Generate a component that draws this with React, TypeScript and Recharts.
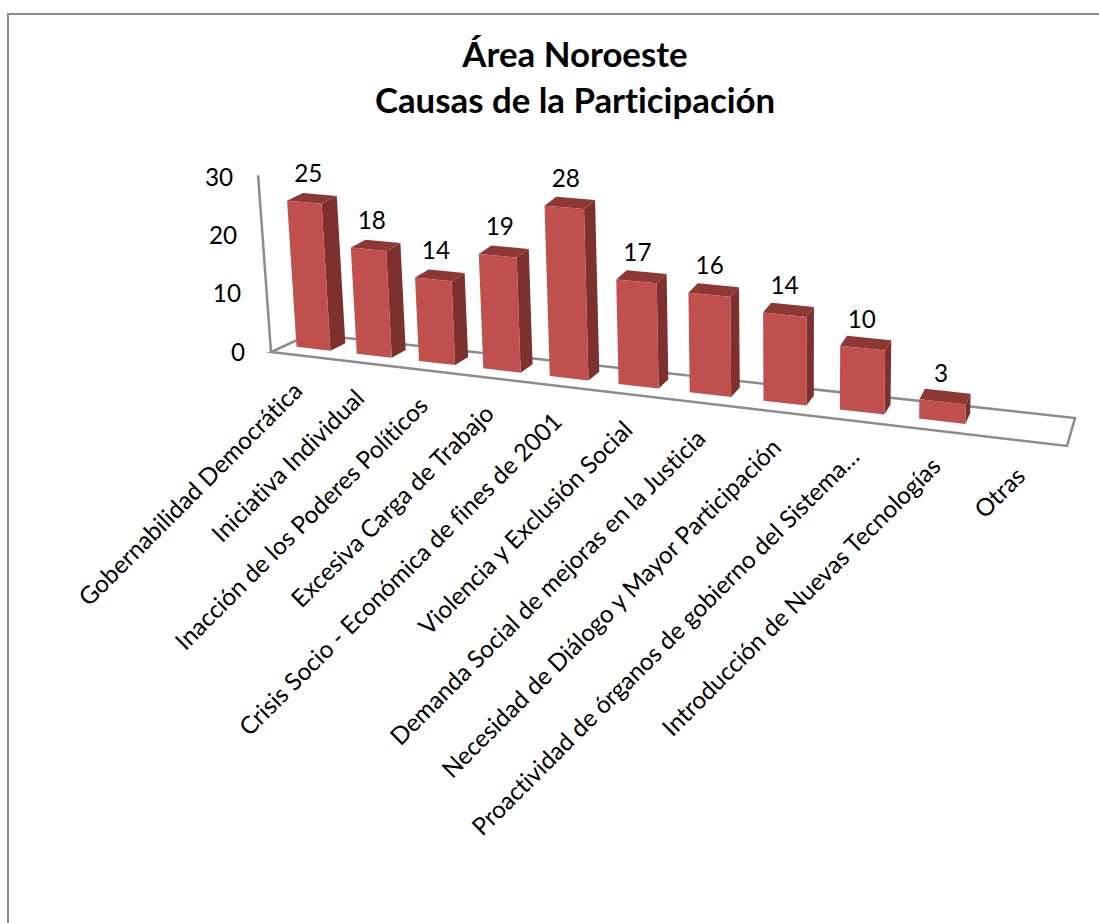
import React from 'react';
import { BarChart, Bar, XAxis, YAxis, LabelList } from 'recharts';

const categories = [
  'Gobernabilidad Democrática',
  'Iniciativa Individual',
  'Inacción de los Poderes Políticos',
  'Excesiva Carga de Trabajo',
  'Crisis Socio - Económica de fines de 2001',
  'Violencia y Exclusión Social',
  'Demanda Social de mejoras en la Justicia',
  'Necesidad de Diálogo y Mayor Participación',
  'Proactividad de órganos de gobierno del Sistema…',
  'Introducción de Nuevas Tecnologías',
  'Otras',
];
const values: (number | null)[] = [25, 18, 14, 19, 28, 17, 16, 14, 10, 3, null];
const yTicks = [0, 10, 20, 30];
const titleLines = ['Área Noroeste', 'Causas de la Participación'];

const chartData = categories.map((name, i) => ({ name, value: values[i] }));

const WIDTH = 1099;
const HEIGHT = 923;
const FONT = 'Lato, sans-serif';
const LABEL_SIZE = 24.3;
const TEXT_STYLE = { fontVariantLigatures: 'none' };

// flat plot area, the shapes below warp it into the 3D look
const PLOT_LEFT = 271;
const PLOT_RIGHT = 1067;
const PLOT_TOP = 175;
const PLOT_BOTTOM = 352;
const Y_MAX = 30;

const FRONT_LEFT = [271, 352];
const FRONT_RIGHT = [1067, 446];
const BACK_LEFT = [310, 334];
const BACK_RIGHT = [1075, 418];
const BAR_NEAR = 0.36;
const BAR_FAR = 0.76;
const BAR_SHIFT = 1.5;
const PERSPECTIVE = -0.174;

const lerp = (a: number, b: number, t: number) => a + (b - a) * t;

// u: along the categories, v: depth of the floor, val: value on the y axis
const project = (u: number, v: number, val: number): [number, number] => {
  const s = (u * (1 + PERSPECTIVE)) / (1 + PERSPECTIVE * u);
  const fx = lerp(FRONT_LEFT[0], FRONT_RIGHT[0], s);
  const fy = lerp(FRONT_LEFT[1], FRONT_RIGHT[1], s);
  const bx = lerp(BACK_LEFT[0], BACK_RIGHT[0], s);
  const by = lerp(BACK_LEFT[1], BACK_RIGHT[1], s);
  const x = lerp(fx, bx, v);
  const y = lerp(fy, by, v);
  const unit = 5.82 + 0.00095 * (x - PLOT_LEFT);
  const lean = (x - 800) * 0.00075;
  return [x + lean * val, y - unit * val];
};

const toU = (x: number) => (x - PLOT_LEFT) / (PLOT_RIGHT - PLOT_LEFT);
const toVal = (height: number) => (height / (PLOT_BOTTOM - PLOT_TOP)) * Y_MAX;
const pts = (list: [number, number][]) => list.map((p) => p.join(',')).join(' ');

const Bar3D = (props: any) => {
  const { x, width, height } = props;
  if (!height) return null;
  const u0 = toU(x - BAR_SHIFT);
  const u1 = toU(x - BAR_SHIFT + width);
  const val = toVal(height);
  const fbl = project(u0, BAR_NEAR, 0);
  const fbr = project(u1, BAR_NEAR, 0);
  const ftl = project(u0, BAR_NEAR, val);
  const ftr = project(u1, BAR_NEAR, val);
  const bbr = project(u1, BAR_FAR, 0);
  const btr = project(u1, BAR_FAR, val);
  const btl = project(u0, BAR_FAR, val);
  return (
    <g>
      <polygon points={pts([ftr, btr, bbr, fbr])} fill="#7D302E" />
      <polygon points={pts([ftl, btl, btr, ftr])} fill="#8E3836" />
      <polygon points={pts([ftl, ftr, fbr, fbl])} fill="#C0504D" />
    </g>
  );
};

const ValueLabel = (props: any) => {
  const { x, width, height, value } = props;
  if (value == null) return null;
  const u = toU(x + width / 2);
  const [cx, cy] = project(u, BAR_NEAR, toVal(height));
  return (
    <text
      x={cx + 3 - 7 * u}
      y={cy - 30}
      textAnchor="middle"
      dominantBaseline="central"
      fontFamily={FONT}
      fontSize={LABEL_SIZE}
      fill="#000"
    >
      {value}
    </text>
  );
};

const CategoryTick = (props: any) => {
  const { x, payload } = props;
  const [px, py] = project(toU(x), 0, 0);
  const ax = px + 3;
  const ay = py + 37;
  return (
    <text
      x={ax}
      y={ay}
      textAnchor="end"
      transform={`rotate(-45 ${ax} ${ay})`}
      fontFamily={FONT}
      fontSize={LABEL_SIZE}
      fill="#000"
      style={TEXT_STYLE}
    >
      {payload.value}
    </text>
  );
};

const ValueTick = (props: any) => {
  const { payload } = props;
  const [px, py] = project(0, 0, payload.value);
  return (
    <text
      x={px - 26}
      y={py - 1}
      textAnchor="end"
      dominantBaseline="central"
      fontFamily={FONT}
      fontSize={LABEL_SIZE}
      fill="#000"
    >
      {payload.value}
    </text>
  );
};

const Floor = () => {
  const wallTop = project(0, 0, Y_MAX);
  return (
    <g stroke="#8C8C8C" strokeWidth={2.5} fill="none">
      <polygon
        points={pts([
          project(0, 0, 0),
          project(1, 0, 0),
          project(1, 1, 0),
          project(0, 1, 0),
        ])}
        fill="#fff"
      />
      <line x1={FRONT_LEFT[0]} y1={FRONT_LEFT[1]} x2={wallTop[0] - 1} y2={wallTop[1] - 2} />
    </g>
  );
};

const Title = () => (
  <g fontFamily={FONT} fontSize={34.8} fontWeight={700} textAnchor="middle" fill="#000" style={TEXT_STYLE}>
    <text x={575} y={67}>{titleLines[0]}</text>
    <text x={575} y={113}>{titleLines[1]}</text>
  </g>
);

export default function App() {
  return (
    <div style={{ position: 'absolute', left: 0, top: 0, width: WIDTH, height: HEIGHT, overflow: 'hidden', background: '#fff' }}>
      <div
        style={{
          position: 'absolute',
          left: 7,
          top: 13,
          width: WIDTH,
          height: HEIGHT,
          borderLeft: '2px solid #8C8C8C',
          borderTop: '2px solid #8C8C8C',
        }}
      />
      <div style={{ position: 'absolute', left: 0, top: 0 }}>
        <BarChart
          width={WIDTH}
          height={HEIGHT}
          data={chartData}
          barCategoryGap="21.5%"
          margin={{
            left: PLOT_LEFT - 1,
            right: WIDTH - PLOT_RIGHT,
            top: PLOT_TOP,
            bottom: HEIGHT - PLOT_BOTTOM - 1,
          }}
        >
          <Title />
          <Floor />
          <XAxis
            dataKey="name"
            interval={0}
            height={1}
            axisLine={false}
            tickLine={false}
            tick={<CategoryTick />}
          />
          <YAxis
            domain={[0, Y_MAX]}
            ticks={yTicks}
            interval={0}
            width={1}
            axisLine={false}
            tickLine={false}
            tick={<ValueTick />}
          />
          <Bar dataKey="value" shape={<Bar3D />} isAnimationActive={false}>
            <LabelList dataKey="value" content={<ValueLabel />} />
          </Bar>
        </BarChart>
      </div>
    </div>
  );
}
